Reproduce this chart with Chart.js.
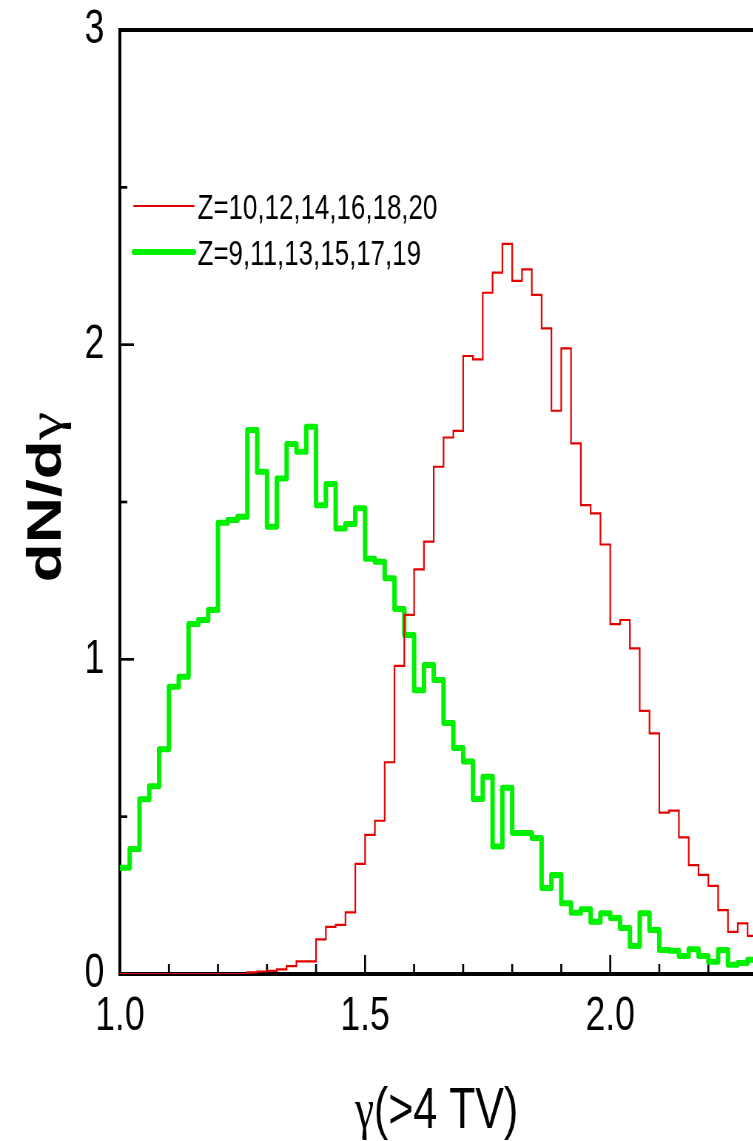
<!DOCTYPE html>
<html>
<head>
<meta charset="utf-8">
<script src="https://cdn.jsdelivr.net/npm/chart.js@4.4.1/dist/chart.umd.min.js"></script>
<style>
  html, body { margin: 0; padding: 0; background: #fff; overflow: hidden; }
  #frame { width: 753px; height: 1141px; overflow: hidden; position: relative; }
  /* the figure is drawn on a wider canvas and narrowed, as in the printed figure */
  #plot { position: absolute; left: 0; top: 0; transform: scaleX(0.74); transform-origin: 0 0; }
</style>
</head>
<body>
<div id="frame"><canvas id="plot" width="1216" height="1141"></canvas></div>
<script>
// Histogram bin edges in gamma (left edge of each bin, plus the closing edge)
const binEdges = [
  1.00, 1.02, 1.04, 1.06, 1.08, 1.10, 1.12, 1.14, 1.16, 1.18,
  1.20, 1.22, 1.24, 1.26, 1.28, 1.30, 1.32, 1.34, 1.36, 1.38,
  1.40, 1.42, 1.44, 1.46, 1.48, 1.50, 1.52, 1.54, 1.56, 1.58,
  1.60, 1.62, 1.64, 1.66, 1.68, 1.70, 1.72, 1.74, 1.76, 1.78,
  1.80, 1.82, 1.84, 1.86, 1.88, 1.90, 1.92, 1.94, 1.96, 1.98,
  2.00, 2.02, 2.04, 2.06, 2.08, 2.10, 2.12, 2.14, 2.16, 2.18,
  2.20, 2.22, 2.24, 2.26, 2.28, 2.30
];

// dN/dgamma, even charges
const evenZ = [
  0, 0, 0, 0, 0, 0, 0, 0, 0, 0,
  0, 0, 0, 0.005, 0.008, 0.010, 0.015, 0.025, 0.040, 0.040,
  0.110, 0.150, 0.156, 0.196, 0.350, 0.442, 0.487, 0.673, 0.979, 1.141,
  1.286, 1.374, 1.612, 1.705, 1.726, 1.964, 1.953, 2.165, 2.229, 2.320,
  2.203, 2.239, 2.158, 2.052, 1.790, 1.988, 1.686, 1.490, 1.464, 1.365,
  1.112, 1.125, 1.035, 0.836, 0.765, 0.513, 0.519, 0.434, 0.346, 0.315,
  0.280, 0.203, 0.134, 0.161, 0.121
];

// dN/dgamma, odd charges
const oddZ = [
  0.338, 0.397, 0.555, 0.597, 0.714, 0.913, 0.945, 1.112, 1.125, 1.157,
  1.434, 1.443, 1.453, 1.729, 1.596, 1.421, 1.575, 1.684, 1.660, 1.739,
  1.490, 1.557, 1.416, 1.430, 1.480, 1.320, 1.310, 1.258, 1.160, 1.077,
  0.902, 0.982, 0.934, 0.798, 0.718, 0.675, 0.556, 0.627, 0.405, 0.592,
  0.448, 0.448, 0.432, 0.273, 0.315, 0.225, 0.195, 0.206, 0.166, 0.193,
  0.178, 0.146, 0.089, 0.193, 0.140, 0.076, 0.074, 0.057, 0.079, 0.057,
  0.039, 0.076, 0.029, 0.035, 0.045
];

const seriesLabels = ['Z=10,12,14,16,18,20', 'Z=9,11,13,15,17,19'];

const xMajorTicks = [1.0, 1.5, 2.0, 2.5];
const xTickLabels = ['1.0', '1.5', '2.0', '2.5'];
const yMajorTicks = [0, 1, 2, 3];
const yTickLabels = ['0', '1', '2', '3'];

// step outline: each bin value starts at its left edge, closed at the last right edge
function stepPoints(values) {
  const pts = values.map((v, i) => ({ x: binEdges[i], y: v }));
  pts.push({ x: binEdges[values.length], y: values[values.length - 1] });
  return pts;
}

function majorIndex(list, v) {
  return list.findIndex(m => Math.abs(m - v) < 1e-6);
}

const SANS = "'Liberation Sans', Arial, sans-serif";
const SERIF = "'Liberation Serif', 'Times New Roman', serif";

// frame edges and inward tick marks
const framePlugin = {
  id: 'frameTicks',
  beforeDatasetsDraw(chart) {
    const { ctx, chartArea: a, scales: { x, y } } = chart;
    ctx.save();
    ctx.strokeStyle = '#000';
    ctx.lineWidth = 4;
    ctx.beginPath();
    ctx.moveTo(a.left - 2, a.top);
    ctx.lineTo(a.right, a.top);
    ctx.lineTo(a.right, a.bottom);
    ctx.stroke();
    ctx.lineWidth = 2.7;
    x.ticks.forEach(t => {
      const px = x.getPixelForValue(t.value);
      const len = majorIndex(xMajorTicks, t.value) >= 0 ? 19 : 10;
      ctx.beginPath();
      ctx.moveTo(px, a.bottom);
      ctx.lineTo(px, a.bottom - len);
      ctx.stroke();
    });
    y.ticks.forEach(t => {
      const py = y.getPixelForValue(t.value);
      const len = majorIndex(yMajorTicks, t.value) >= 0 ? 19 : 10;
      ctx.beginPath();
      ctx.moveTo(a.left, py);
      ctx.lineTo(a.left + len, py);
      ctx.stroke();
    });
    ctx.restore();
  }
};

// legend inside the plot and the two axis titles
const labelPlugin = {
  id: 'labels',
  afterDraw(chart) {
    const { ctx } = chart;
    ctx.save();
    ctx.fillStyle = '#000';

    // legend
    const rows = [206, 252];
    chart.data.datasets.forEach((ds, i) => {
      const ly = rows[i];
      ctx.strokeStyle = ds.borderColor;
      ctx.lineWidth = ds.borderWidth;
      ctx.lineCap = 'round';
      ctx.beginPath();
      ctx.moveTo(181, ly);
      ctx.lineTo(262, ly);
      ctx.stroke();
      ctx.font = `35px ${SANS}`;
      ctx.textAlign = 'left';
      ctx.textBaseline = 'alphabetic';
      ctx.fillText(ds.label, 267, ly + 12.5);
    });

    // x axis title: gamma(>4 TV)
    const g = 'γ', rest = '(>4 TV)';
    ctx.font = `58px ${SERIF}`;
    const gw = ctx.measureText(g).width;
    ctx.font = `58px ${SANS}`;
    const rw = ctx.measureText(rest).width;
    let x0 = 590 - (gw + rw) / 2;
    ctx.textAlign = 'left';
    ctx.font = `58px ${SERIF}`;
    ctx.fillText(g, x0, 1128);
    ctx.font = `58px ${SANS}`;
    ctx.fillText(rest, x0 + gw, 1128);

    // y axis title: dN/dgamma
    ctx.translate(82, 497);
    ctx.rotate(-Math.PI / 2);
    const t1 = 'dN/d', t2 = 'γ';
    ctx.font = `bold 64px ${SANS}`;
    const w1 = ctx.measureText(t1).width;
    ctx.font = `64px ${SERIF}`;
    const w2 = ctx.measureText(t2).width;
    const s = -(w1 + w2) / 2;
    ctx.font = `bold 64px ${SANS}`;
    ctx.fillText(t1, s, 0);
    ctx.font = `64px ${SERIF}`;
    ctx.fillText(t2, s + w1, 0);
    ctx.restore();
  }
};

Chart.defaults.font.family = SANS;
Chart.defaults.color = '#000';

new Chart(document.getElementById('plot'), {
  type: 'line',
  data: {
    datasets: [
      {
        label: seriesLabels[0],
        data: stepPoints(evenZ),
        borderColor: '#e30000',
        borderWidth: 2.2,
        stepped: 'before',
        pointRadius: 0,
        fill: false
      },
      {
        label: seriesLabels[1],
        data: stepPoints(oddZ),
        borderColor: '#00f000',
        borderWidth: 6,
        borderJoinStyle: 'round',
        stepped: 'before',
        pointRadius: 0,
        fill: false
      }
    ]
  },
  options: {
    responsive: false,
    animation: false,
    events: [],
    layout: { padding: { top: 30, right: 60, bottom: 0, left: 0 } },
    plugins: { legend: { display: false }, tooltip: { enabled: false } },
    scales: {
      x: {
        type: 'linear',
        min: 1.0,
        max: 2.5,
        afterFit: s => { s.height = 167; s.paddingLeft = 0; s.paddingRight = 0; },
        border: { display: true, color: '#000', width: 4 },
        grid: { drawOnChartArea: false, drawTicks: false },
        ticks: {
          stepSize: 0.1,
          autoSkip: false,
          maxRotation: 0,
          padding: 14,
          font: { size: 48 },
          callback: v => { const i = majorIndex(xMajorTicks, v); return i >= 0 ? xTickLabels[i] : ''; }
        }
      },
      y: {
        type: 'linear',
        min: 0,
        max: 3,
        afterFit: s => { s.width = 162; s.paddingTop = 0; s.paddingBottom = 0; },
        border: { display: true, color: '#000', width: 4 },
        grid: { drawOnChartArea: false, drawTicks: false },
        ticks: {
          stepSize: 0.5,
          autoSkip: false,
          padding: 21,
          font: { size: 48 },
          callback: v => { const i = majorIndex(yMajorTicks, v); return i >= 0 ? yTickLabels[i] : ''; }
        }
      }
    }
  },
  plugins: [framePlugin, labelPlugin]
});
</script>
</body>
</html>
